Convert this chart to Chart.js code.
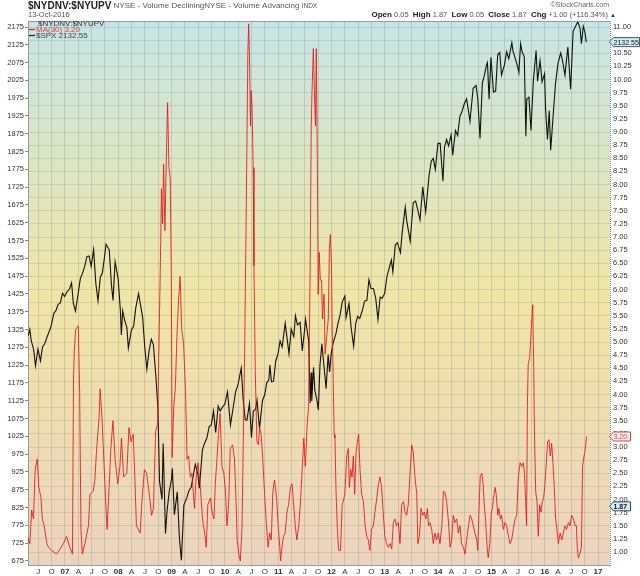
<!DOCTYPE html>
<html lang="en">
<head>
<meta charset="UTF-8">
<title>$NYDNV:$NYUPV</title>
<script src="https://cdn.jsdelivr.net/npm/chart.js"></script>
<style>
  html, body { margin: 0; padding: 0; background: #fff; }
  #wrap { width: 640px; height: 576px; position: relative; }
</style>
</head>
<body>
<div id="wrap"><canvas id="chart"></canvas></div>
<script>
// --- S&P 500 close (left axis)
const spxDates = [
  '2006-04-24','2006-05-05','2006-05-15','2006-05-31','2006-06-13','2006-06-30','2006-07-17','2006-07-31',
  '2006-08-15','2006-08-31','2006-09-15','2006-09-29','2006-10-16','2006-10-31','2006-11-15','2006-11-30',
  '2006-12-15','2006-12-29','2007-01-15','2007-01-31','2007-02-15','2007-02-27','2007-03-14','2007-03-30',
  '2007-04-16','2007-04-30','2007-05-15','2007-05-31','2007-06-15','2007-06-29','2007-07-16','2007-07-31',
  '2007-08-15','2007-08-31','2007-09-14','2007-09-28','2007-10-09','2007-10-31','2007-11-15','2007-11-26',
  '2007-12-10','2007-12-31','2008-01-15','2008-01-22','2008-01-31','2008-02-15','2008-02-29','2008-03-10',
  '2008-03-31','2008-04-15','2008-04-30','2008-05-19','2008-05-30','2008-06-16','2008-06-30','2008-07-15',
  '2008-07-31','2008-08-15','2008-08-29','2008-09-15','2008-09-29','2008-10-10','2008-10-27','2008-11-04',
  '2008-11-20','2008-12-01','2008-12-15','2008-12-31','2009-01-06','2009-01-20','2009-02-09','2009-02-23',
  '2009-03-09','2009-03-26','2009-04-15','2009-04-30','2009-05-15','2009-06-12','2009-06-30','2009-07-10',
  '2009-07-31','2009-08-14','2009-08-31','2009-09-15','2009-09-30','2009-10-15','2009-10-30','2009-11-16',
  '2009-11-30','2009-12-15','2009-12-31','2010-01-19','2010-02-08','2010-02-26','2010-03-15','2010-03-31',
  '2010-04-23','2010-05-06','2010-05-20','2010-06-01','2010-06-18','2010-07-02','2010-07-15','2010-07-30',
  '2010-08-09','2010-08-26','2010-09-15','2010-09-30','2010-10-15','2010-10-29','2010-11-05','2010-11-16',
  '2010-11-30','2010-12-15','2010-12-31','2011-01-14','2011-01-28','2011-02-18','2011-03-01','2011-03-16',
  '2011-03-31','2011-04-18','2011-04-29','2011-05-13','2011-05-31','2011-06-15','2011-06-30','2011-07-07',
  '2011-07-29','2011-08-08','2011-08-15','2011-08-19','2011-08-31','2011-09-09','2011-09-22','2011-10-03',
  '2011-10-14','2011-10-27','2011-11-09','2011-11-25','2011-12-09','2011-12-19','2011-12-30','2012-01-13',
  '2012-01-31','2012-02-15','2012-02-29','2012-03-15','2012-04-02','2012-04-10','2012-04-30','2012-05-15',
  '2012-06-01','2012-06-15','2012-06-29','2012-07-13','2012-07-31','2012-08-15','2012-08-31','2012-09-14',
  '2012-09-28','2012-10-15','2012-10-31','2012-11-15','2012-11-30','2012-12-14','2012-12-31','2013-01-15',
  '2013-01-31','2013-02-15','2013-02-25','2013-03-14','2013-03-28','2013-04-18','2013-04-30','2013-05-21',
  '2013-05-31','2013-06-24','2013-06-30','2013-07-15','2013-07-31','2013-08-15','2013-08-30','2013-09-18',
  '2013-09-30','2013-10-08','2013-10-31','2013-11-15','2013-11-29','2013-12-13','2013-12-31','2014-01-15',
  '2014-02-03','2014-02-14','2014-02-28','2014-03-14','2014-03-31','2014-04-11','2014-04-30','2014-05-15',
  '2014-05-30','2014-06-13','2014-06-30','2014-07-15','2014-07-31','2014-08-07','2014-08-29','2014-09-18',
  '2014-09-30','2014-10-15','2014-10-31','2014-11-14','2014-11-28','2014-12-05','2014-12-16','2014-12-29',
  '2015-01-15','2015-01-30','2015-02-13','2015-02-27','2015-03-11','2015-03-31','2015-04-15','2015-04-30',
  '2015-05-21','2015-05-29','2015-06-15','2015-06-30','2015-07-08','2015-07-20','2015-07-31','2015-08-14',
  '2015-08-25','2015-08-31','2015-09-15','2015-09-29','2015-10-15','2015-11-03','2015-11-13','2015-11-30',
  '2015-12-14','2015-12-31','2016-01-07','2016-01-20','2016-02-01','2016-02-11','2016-02-29','2016-03-15',
  '2016-04-01','2016-04-20','2016-05-02','2016-05-19','2016-06-08','2016-06-27','2016-07-14','2016-08-15',
  '2016-08-31','2016-09-09','2016-09-22','2016-10-03','2016-10-13'
];
const spxValues = [
  1308,1325,1294,1270,1223,1270,1237,1276, 1285,1304,1320,1336,1370,1378,1396,1400,
  1427,1418,1431,1438,1456,1399,1377,1420, 1468,1482,1501,1530,1532,1503,1550,1455,
  1406,1473,1484,1527,1565,1549,1451,1407, 1515,1468,1380,1310,1378,1349,1331,1273,
  1323,1334,1386,1426,1400,1360,1280,1214, 1267,1298,1283,1193,1106,899,848,1005,
  752,816,868,903,935,805,869,743, 677,832,852,873,882,946,919,879,
  987,1005,1021,1052,1057,1096,1036,1110, 1096,1107,1115,1150,1057,1104,1150,1169,
  1217,1128,1072,1070,1117,1022,1096,1101, 1127,1047,1125,1141,1176,1183,1225,1178,
  1180,1236,1258,1293,1276,1343,1306,1257, 1326,1305,1364,1338,1345,1265,1321,1354,
  1292,1119,1204,1124,1219,1154,1129,1099, 1224,1285,1229,1159,1255,1206,1258,1289,
  1312,1343,1366,1403,1419,1358,1398,1330, 1278,1342,1362,1356,1379,1405,1407,1465,
  1441,1440,1412,1353,1416,1413,1426,1472, 1498,1520,1487,1563,1569,1541,1598,1669,
  1631,1573,1606,1682,1686,1661,1633,1726, 1682,1656,1757,1798,1806,1775,1848,1848,
  1742,1838,1859,1841,1872,1815,1884,1870, 1924,1937,1960,1973,1931,1910,2003,2011,
  1972,1862,2018,2039,2068,2075,1972,2090, 1992,1995,2097,2104,2040,2068,2106,2086,
  2131,2107,2084,2063,2047,2128,2104,2092, 1868,1972,1978,1884,2023,2109,2023,2080,
  2021,2044,1944,1859,1940,1829,1932,2016, 2072,2102,2081,2040,2119,2000,2163,2190,
  2171,2128,2177,2161,2132.55
];

// --- $NYDNV:$NYUPV MA(30) (right axis), x in decimal years
const maYears = [
  2006.31,2006.34,2006.375,2006.41,2006.44,2006.48,2006.51,2006.55,2006.575,2006.61,2006.66,2006.69,
  2006.75,2006.84,2006.91,2006.97,2007.03,2007.09,2007.14,2007.16,2007.175,2007.20,2007.25,2007.275,
  2007.30,2007.325,2007.375,2007.44,2007.47,2007.53,2007.56,2007.59,2007.64,2007.66,2007.70,2007.74,
  2007.76,2007.79,2007.825,2007.86,2007.90,2007.94,2007.99,2008.03,2008.06,2008.10,2008.16,2008.20,
  2008.24,2008.28,2008.31,2008.34,2008.41,2008.44,2008.49,2008.53,2008.575,2008.625,2008.66,2008.70,
  2008.74,2008.76,2008.79,2008.81,2008.83,2008.85,2008.875,2008.90,2008.925,2008.95,2008.975,2008.995,
  2009.01,2009.04,2009.07,2009.10,2009.13,2009.16,2009.19,2009.225,2009.26,2009.29,2009.32,2009.35,
  2009.38,2009.41,2009.43,2009.46,2009.495,2009.54,2009.58,2009.62,2009.65,2009.68,2009.73,2009.76,
  2009.795,2009.82,2009.85,2009.88,2009.91,2009.945,2009.98,2010.01,2010.04,2010.07,2010.10,2010.145,
  2010.18,2010.21,2010.23,2010.26,2010.29,2010.32,2010.345,2010.37,2010.395,2010.41,2010.43,2010.445,
  2010.46,2010.48,2010.495,2010.51,2010.53,2010.545,2010.57,2010.60,2010.63,2010.65,2010.68,2010.71,
  2010.745,2010.78,2010.81,2010.84,2010.87,2010.90,2010.93,2010.97,2011.00,2011.03,2011.045,2011.07,
  2011.10,2011.13,2011.165,2011.195,2011.23,2011.26,2011.29,2011.32,2011.35,2011.385,2011.415,2011.45,
  2011.48,2011.51,2011.54,2011.57,2011.60,2011.62,2011.635,2011.66,2011.685,2011.70,2011.715,2011.735,
  2011.75,2011.77,2011.79,2011.815,2011.83,2011.86,2011.88,2011.91,2011.94,2011.96,2011.98,2012.00,
  2012.015,2012.03,2012.05,2012.065,2012.085,2012.11,2012.135,2012.17,2012.20,2012.22,2012.25,2012.285,
  2012.315,2012.335,2012.36,2012.385,2012.41,2012.435,2012.46,2012.485,2012.51,2012.535,2012.565,2012.60,
  2012.63,2012.66,2012.69,2012.72,2012.75,2012.785,2012.815,2012.85,2012.88,2012.91,2012.94,2012.97,
  2013.00,2013.035,2013.065,2013.10,2013.13,2013.16,2013.19,2013.22,2013.255,2013.285,2013.315,2013.35,
  2013.38,2013.41,2013.44,2013.47,2013.505,2013.535,2013.565,2013.60,2013.62,2013.65,2013.68,2013.71,
  2013.74,2013.77,2013.80,2013.82,2013.85,2013.88,2013.91,2013.94,2013.97,2014.005,2014.035,2014.07,
  2014.10,2014.13,2014.16,2014.19,2014.225,2014.255,2014.285,2014.315,2014.35,2014.38,2014.41,2014.44,
  2014.475,2014.505,2014.535,2014.57,2014.60,2014.63,2014.66,2014.69,2014.725,2014.745,2014.77,2014.79,
  2014.82,2014.845,2014.87,2014.89,2014.92,2014.94,2014.97,2015.00,2015.02,2015.04,2015.07,2015.09,
  2015.12,2015.14,2015.17,2015.19,2015.225,2015.255,2015.285,2015.32,2015.35,2015.38,2015.41,2015.445,
  2015.475,2015.505,2015.54,2015.57,2015.60,2015.62,2015.645,2015.66,2015.675,2015.69,2015.72,2015.74,
  2015.755,2015.775,2015.795,2015.805,2015.83,2015.855,2015.88,2015.905,2015.93,2015.955,2015.98,2016.005,
  2016.03,2016.055,2016.08,2016.105,2016.13,2016.155,2016.18,2016.205,2016.23,2016.255,2016.29,2016.32,
  2016.35,2016.38,2016.41,2016.445,2016.475,2016.505,2016.54,2016.57,2016.595,2016.61,2016.63,2016.66,
  2016.69,2016.71,2016.73,2016.75,2016.77,2016.785
];
const maValues = [
  1.26,1.16,1.80,1.63,2.57,2.77,2.23,2.03,1.63,1.50,1.16,1.09,
  1.03,0.96,1.06,1.16,1.30,1.09,0.96,4.31,4.84,5.24,5.31,4.04,
  1.43,0.96,1.16,1.50,2.10,2.16,2.37,2.90,3.57,4.11,3.44,2.50,
  2.03,1.43,2.16,2.97,3.50,2.77,2.30,2.63,3.17,2.43,2.50,3.37,
  3.10,3.24,2.43,1.50,1.36,1.90,2.57,2.50,2.16,1.70,1.83,3.30,
  3.44,4.77,6.51,7.92,7.25,8.39,7.12,8.45,9.56,8.32,8.12,6.25,
  2.80,3.77,4.11,5.11,5.78,6.25,5.24,4.97,4.11,2.77,2.83,2.43,
  2.50,2.10,1.83,2.43,2.70,2.23,1.63,1.36,1.09,1.90,2.03,1.76,
  1.63,2.30,2.77,3.24,3.64,2.63,2.50,2.16,1.50,1.90,2.97,3.04,
  2.77,1.96,1.23,0.96,0.83,1.43,3.10,4.77,6.98,8.45,10.46,11.06,
  10.53,9.12,9.79,9.46,8.32,6.45,4.44,3.10,3.04,3.37,3.24,2.77,
  2.10,1.50,1.09,1.36,1.23,2.16,2.37,2.03,1.50,1.09,0.83,1.09,
  1.30,1.36,1.76,1.90,2.23,2.30,1.90,1.50,1.23,1.50,1.90,2.57,
  3.17,2.63,3.37,3.77,6.45,9.12,9.79,10.59,9.52,9.12,10.59,8.45,
  5.91,6.71,6.18,6.18,5.44,5.91,4.77,5.11,5.44,6.78,7.05,6.45,
  5.11,4.44,3.24,3.17,2.16,1.43,1.03,1.03,1.90,1.96,2.10,2.83,
  2.97,2.23,2.57,2.43,2.83,2.10,2.90,3.10,3.24,2.57,2.10,1.96,
  1.50,1.30,1.23,1.03,1.43,1.50,1.76,2.03,2.30,2.43,2.23,1.76,
  1.30,1.16,1.09,1.16,1.06,1.56,1.63,1.50,1.56,1.16,1.90,1.96,
  1.76,1.70,1.90,2.43,3.04,2.90,2.43,2.10,1.16,1.30,1.83,1.70,
  1.76,1.63,1.83,1.50,1.56,1.43,1.16,1.36,1.23,1.36,1.16,1.50,
  2.16,2.13,1.96,1.63,1.09,1.23,1.70,1.56,1.63,1.36,1.50,1.16,
  1.09,0.96,1.23,1.50,1.70,1.63,1.50,1.36,1.23,1.03,1.90,2.43,
  2.50,2.30,1.83,1.63,1.09,0.89,1.16,1.76,1.83,2.03,2.23,2.10,
  1.70,1.83,1.63,1.70,1.43,1.56,1.50,1.30,1.16,1.23,1.43,1.63,
  1.70,2.43,2.70,2.63,2.70,2.50,1.90,1.50,3.77,4.57,4.71,5.11,
  5.38,5.71,4.44,3.44,2.16,1.96,1.30,1.90,1.76,1.96,2.03,2.30,
  2.70,3.10,3.14,2.83,3.07,2.70,2.23,1.63,1.43,1.16,1.36,1.23,
  1.36,1.50,1.43,1.56,1.50,1.70,1.63,1.50,1.50,1.09,0.89,0.96,
  1.09,2.63,2.77,2.90,3.04,3.20
];

// --- quarterly x ticks
const xTickValues = [
  2006.5,2006.75,2007,2007.25,2007.5,2007.75,2008,2008.25,2008.5,2008.75,2009,2009.25,2009.5,2009.75,
  2010,2010.25,2010.5,2010.75,2011,2011.25,2011.5,2011.75,2012,2012.25,2012.5,2012.75,2013,2013.25,
  2013.5,2013.75,2014,2014.25,2014.5,2014.75,2015,2015.25,2015.5,2015.75,2016,2016.25,2016.5,2016.75,2017
];
const xTickLabels = [
  'J','O','07','A','J','O','08','A','J','O','09','A','J','O',
  '10','A','J','O','11','A','J','O','12','A','J','O','13','A',
  'J','O','14','A','J','O','15','A','J','O','16','A','J','O','17'
];

// left ticks 675..2175 by 25, right ticks 1.00..11.00 by 0.25
const leftTicks = [];
for (let v = 675; v <= 2175; v += 25) leftTicks.push(v);
const rightTicks = [];
for (let i = 0; i <= 40; i++) rightTicks.push(1 + i * 0.25);

// axis ranges (700 on the left lines up with 1.00 on the right)
const X_MIN = 2006.306, X_MAX = 2017.225;
const L_MIN = 663.5, L_MAX = 2191.9;
const R_MIN = 0.7525, R_MAX = 11.115;

const SPX_LAST = 2132.55, MA_LAST = 3.20, CLOSE_LAST = 1.87;

function toYear(s) {
  const [y, m, d] = s.split('-').map(Number);
  const start = Date.UTC(y, 0, 1);
  return y + (Date.UTC(y, m - 1, d) - start) / (Date.UTC(y + 1, 0, 1) - start);
}

const FONT = '"Liberation Sans", Arial, sans-serif';

function drawRuns(ctx, runs, x, y, alignRight) {
  let w = 0;
  runs.forEach(r => { ctx.font = r.f; w += ctx.measureText(r.t).width; });
  let cx = alignRight ? x - w : x;
  runs.forEach(r => {
    ctx.font = r.f; ctx.fillStyle = r.c;
    ctx.fillText(r.t, cx, y);
    cx += ctx.measureText(r.t).width;
  });
}

function tag(ctx, x, y, text, fill, stroke, color, bold) {
  ctx.font = (bold ? 'bold ' : '') + '7px ' + FONT;
  const w = Math.min(Math.ceil(ctx.measureText(text).width) + 6, 639 - x);
  ctx.beginPath();
  ctx.moveTo(x - 0.5, y);
  ctx.lineTo(x + 3.5, y - 4.5);
  ctx.lineTo(x + w + 0.5, y - 4.5);
  ctx.lineTo(x + w + 0.5, y + 4.5);
  ctx.lineTo(x + 3.5, y + 4.5);
  ctx.closePath();
  ctx.fillStyle = fill; ctx.fill();
  ctx.strokeStyle = stroke; ctx.lineWidth = 1; ctx.stroke();
  ctx.fillStyle = color;
  ctx.textBaseline = 'middle';
  ctx.textAlign = 'left';
  ctx.fillText(text, x + 3.5, y + 0.5);
}

const decor = {
  id: 'decor',
  beforeDraw(chart) {
    const { ctx, chartArea: a } = chart;
    ctx.save();
    ctx.fillStyle = '#fff';
    ctx.fillRect(0, 0, chart.width, chart.height);
    const g = ctx.createLinearGradient(0, a.top, 0, a.bottom);
    g.addColorStop(0, '#c6e5e5');
    g.addColorStop(0.5, '#f0e5a6');
    g.addColorStop(1, '#ecd3bf');
    ctx.fillStyle = g;
    ctx.fillRect(a.left, a.top, a.right - a.left, a.bottom - a.top);
    ctx.restore();
  },
  afterDraw(chart) {
    const { ctx, chartArea: a } = chart;
    const yL = chart.scales.yL, yR = chart.scales.yR;
    ctx.save();
    // frame
    ctx.strokeStyle = '#9a9a9a'; ctx.lineWidth = 1;
    ctx.beginPath();
    ctx.moveTo(a.left + 0.5, a.top + 0.5); ctx.lineTo(a.right, a.top + 0.5);
    ctx.stroke();
    ctx.setLineDash([1, 1]);
    ctx.strokeStyle = '#6a8fb0';
    ctx.beginPath();
    ctx.moveTo(a.right + 0.5, a.top); ctx.lineTo(a.right + 0.5, a.bottom);
    ctx.stroke();
    ctx.setLineDash([]);

    // header
    ctx.textBaseline = 'middle'; ctx.textAlign = 'left';
    drawRuns(ctx, [
      { t: '$NYDNV:$NYUPV', f: 'bold 10px ' + FONT, c: '#222' },
      { t: ' NYSE - Volume DecliningNYSE - Volume Advancing ', f: '8px ' + FONT, c: '#555' },
      { t: 'INDX', f: '6.5px ' + FONT, c: '#555' }
    ], 28, 6, false);
    ctx.font = '7.5px ' + FONT; ctx.fillStyle = '#555';
    ctx.fillText('13-Oct-2016', 28, 14.5);
    ctx.font = '7px ' + FONT; ctx.fillStyle = '#666'; ctx.textAlign = 'right';
    ctx.fillText('\u00a9StockCharts.com', 609, 5);
    ctx.textAlign = 'left';
    const b = 'bold 8px ' + FONT, n = '7.5px ' + FONT;
    drawRuns(ctx, [
      { t: 'Open', f: b, c: '#222' }, { t: ' 0.05  ', f: n, c: '#555' },
      { t: 'High', f: b, c: '#222' }, { t: ' 1.87  ', f: n, c: '#555' },
      { t: 'Low', f: b, c: '#222' }, { t: ' 0.05  ', f: n, c: '#555' },
      { t: 'Close', f: b, c: '#222' }, { t: ' 1.87  ', f: n, c: '#555' },
      { t: 'Chg', f: b, c: '#222' }, { t: ' +1.00 (+116.34%)', f: n, c: '#555' }
    ], 608, 15, true);
    ctx.font = '6px ' + FONT; ctx.fillStyle = '#333';
    ctx.fillText('\u25B2', 610, 15);

    // legend inside plot
    ctx.font = '8px ' + FONT; ctx.fillStyle = '#333';
    ctx.fillText('$NYDNV:$NYUPV', 38, 23.5);
    ctx.lineWidth = 1.2;
    ctx.strokeStyle = '#e02020';
    ctx.beginPath(); ctx.moveTo(29, 29.5); ctx.lineTo(35, 29.5); ctx.stroke();
    ctx.fillStyle = '#e03a3a';
    ctx.fillText('MA(30) ' + MA_LAST.toFixed(2), 36, 29.5);
    ctx.strokeStyle = '#222';
    ctx.beginPath(); ctx.moveTo(29, 35.5); ctx.lineTo(35, 35.5); ctx.stroke();
    ctx.fillStyle = '#444';
    ctx.fillText('$SPX ' + SPX_LAST.toFixed(2), 36, 35.5);

    // last-value tags on the right axis
    tag(ctx, a.right, yL.getPixelForValue(SPX_LAST), SPX_LAST.toFixed(2), '#d7eef0', '#3a5a70', '#111', false);
    tag(ctx, a.right, yR.getPixelForValue(MA_LAST), MA_LAST.toFixed(2), '#fbeeee', '#e04040', '#e04040', false);
    tag(ctx, a.right, yR.getPixelForValue(CLOSE_LAST), CLOSE_LAST.toFixed(2), '#d7eef0', '#2a4a60', '#111', true);
    ctx.restore();
  }
};

new Chart(document.getElementById('chart'), {
  type: 'line',
  data: {
    datasets: [
      {
        label: 'MA(30)',
        data: maYears.map((x, i) => ({ x: x, y: maValues[i] })),
        yAxisID: 'yR',
        borderColor: 'rgba(228,20,20,0.85)',
        borderWidth: 1,
        pointRadius: 0,
        tension: 0
      },
      {
        label: '$SPX',
        data: spxDates.map((d, i) => ({ x: toYear(d), y: spxValues[i] })),
        yAxisID: 'yL',
        borderColor: '#111',
        borderWidth: 1.1,
        pointRadius: 0,
        tension: 0
      }
    ]
  },
  options: {
    responsive: true,
    maintainAspectRatio: false,
    animation: false,
    layout: { padding: { top: 21, left: 0, right: 0, bottom: 0 } },
    plugins: { legend: { display: false }, tooltip: { enabled: false } },
    scales: {
      x: {
        type: 'linear',
        min: X_MIN, max: X_MAX,
        afterBuildTicks: axis => { axis.ticks = xTickValues.map(v => ({ value: v })); },
        afterFit: axis => { axis.height = 11; },
        ticks: {
          autoSkip: false, maxRotation: 0, padding: 0,
          color: '#333',
          font: ctx => ({ family: FONT, size: 8, weight: (ctx.tick && ctx.tick.value % 1 === 0) ? 'bold' : 'normal' }),
          callback: v => {
            const i = xTickValues.findIndex(t => Math.abs(t - v) < 1e-6);
            return i >= 0 ? xTickLabels[i] : '';
          }
        },
        grid: { color: 'rgba(110,120,110,0.24)', tickLength: 2, lineWidth: 1 },
        border: { color: '#9a9a9a' }
      },
      yL: {
        type: 'linear', position: 'left',
        min: L_MIN, max: L_MAX,
        afterBuildTicks: axis => { axis.ticks = leftTicks.map(v => ({ value: v })); },
        afterFit: axis => { axis.width = 28; },
        ticks: { color: '#333', padding: 1, font: { family: FONT, size: 7.5 }, callback: v => String(v) },
        grid: { drawOnChartArea: false, tickLength: 3, color: '#888' },
        border: { color: '#9a9a9a' }
      },
      yR: {
        type: 'linear', position: 'right',
        min: R_MIN, max: R_MAX,
        afterBuildTicks: axis => { axis.ticks = rightTicks.map(v => ({ value: v })); },
        afterFit: axis => { axis.width = 30; },
        ticks: { color: '#333', padding: 3, font: { family: FONT, size: 7.5 }, callback: v => Number(v).toFixed(2) },
        grid: { color: 'rgba(110,120,110,0.18)', drawTicks: false },
        border: { display: false }
      }
    }
  },
  plugins: [decor]
});
</script>
</body>
</html>
